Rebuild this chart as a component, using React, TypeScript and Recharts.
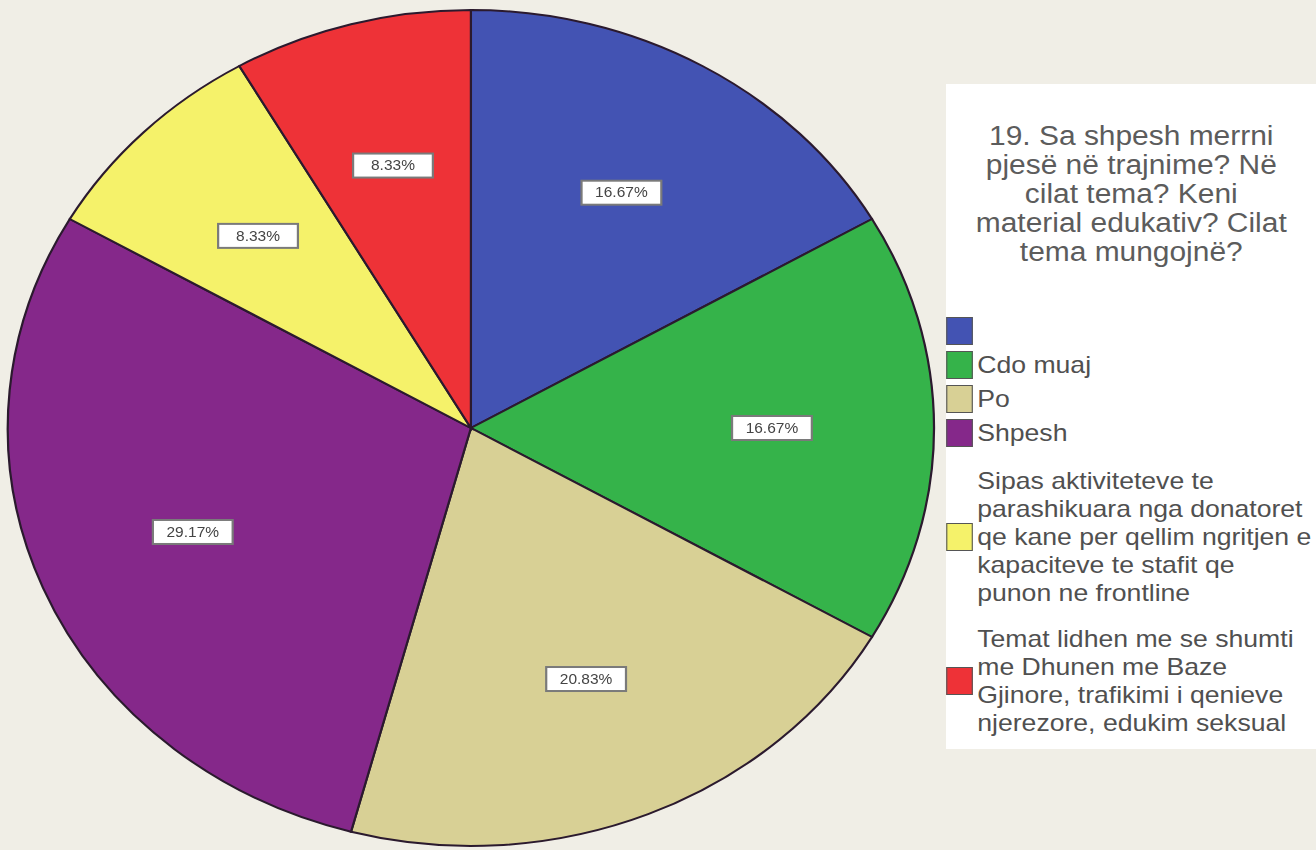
import React from 'react';
import { PieChart, Pie, Cell, Legend } from 'recharts';

// answers to question 19 (counts out of 24 respondents)
const categories = [
	'',
	'Cdo muaj',
	'Po',
	'Shpesh',
	'Sipas aktiviteteve te parashikuara nga donatoret qe kane per qellim ngritjen e kapaciteve te stafit qe punon ne frontline',
	'Temat lidhen me se shumti me Dhunen me Baze Gjinore, trafikimi i qenieve njerezore, edukim seksual',
];
const counts = [4, 4, 5, 7, 2, 2];
const colors = ['#4353b3', '#35b34a', '#d8d095', '#85288a', '#f5f26a', '#ee3237'];

const titleLines = [
	'19. Sa shpesh merrni',
	'pjesë në trajnime? Në',
	'cilat tema? Keni',
	'material edukativ? Cilat',
	'tema mungojnë?',
];
const legendLines = [
	[''],
	['Cdo muaj'],
	['Po'],
	['Shpesh'],
	['Sipas aktiviteteve te', 'parashikuara nga donatoret', 'qe kane per qellim ngritjen e', 'kapaciteve te stafit qe', 'punon ne frontline'],
	['Temat lidhen me se shumti', 'me Dhunen me Baze', 'Gjinore, trafikimi i qenieve', 'njerezore, edukim seksual'],
];

const data = categories.map((name, i) => ({ name, value: counts[i] }));

const STRETCH = 1.108;
const RAD = Math.PI / 180;

const renderLabel = (props: any) => {
	const { cx, cy, midAngle, outerRadius, percent } = props;
	const r = outerRadius * 0.65;
	const x = cx + r * Math.cos(-midAngle * RAD);
	const y = cy + r * Math.sin(-midAngle * RAD);
	return (
		<g>
			<rect x={x - 36} y={y - 12} width={72} height={24} fill="#fff" stroke="#7a7a7a" strokeWidth={2} />
			<text x={x} y={y} textAnchor="middle" dominantBaseline="central" fill="#444" fontSize={14} fontFamily="Liberation Sans, Arial, sans-serif">
				{(percent * 100).toFixed(2)}%
			</text>
		</g>
	);
};

const renderLegend = () => (
	<div style={{ fontFamily: 'Liberation Sans, Arial, sans-serif', color: '#505050', paddingTop: 38 }}>
		<div style={{ textAlign: 'center', fontSize: 27, lineHeight: '29px', color: '#5c5c5c' }}>
			{titleLines.map((l, i) => (
				<div key={i}>{l}</div>
			))}
		</div>
		<div style={{ marginTop: 50 }}>
			{legendLines.map((lines, i) => (
				<div key={i} style={{ display: 'flex', alignItems: 'center', marginTop: i === 0 ? 0 : i === 4 ? 20 : i === 5 ? 18 : 6 }}>
					<div style={{ width: 22, height: 26, background: colors[i], border: '1px solid #555', flex: 'none', marginRight: 4 }} />
					<div style={{ fontSize: 24, lineHeight: '28px', minHeight: 28, whiteSpace: 'nowrap' }}>
						{lines.map((l, j) => (
							<div key={j}>{l || '\u00a0'}</div>
						))}
					</div>
				</div>
			))}
		</div>
	</div>
);

export default function App() {
	return (
		<div style={{ position: 'absolute', left: 0, top: 0, width: 1316, height: 850, background: '#f0eee6', overflow: 'hidden' }}>
			<div style={{ width: 1316 / STRETCH, height: 850, transform: `scaleX(${STRETCH})`, transformOrigin: 'left top' }}>
				<PieChart width={1316 / STRETCH} height={850} margin={{ top: 0, right: 0, bottom: 0, left: 0 }}>
					<Pie
						data={data}
						dataKey="value"
						nameKey="name"
						cx={425}
						cy={428}
						outerRadius={418}
						startAngle={90}
						endAngle={-270}
						stroke="#2b1a2e"
						strokeWidth={2}
						label={renderLabel}
						labelLine={false}
						isAnimationActive={false}
					>
						{data.map((d, i) => (
							<Cell key={d.name + i} fill={colors[i]} />
						))}
					</Pie>
					<Legend
						content={renderLegend}
						wrapperStyle={{ left: 854, top: 84, width: 334, height: 665, background: '#fff', bottom: 'auto', right: 'auto' }}
					/>
				</PieChart>
			</div>
		</div>
	);
}
